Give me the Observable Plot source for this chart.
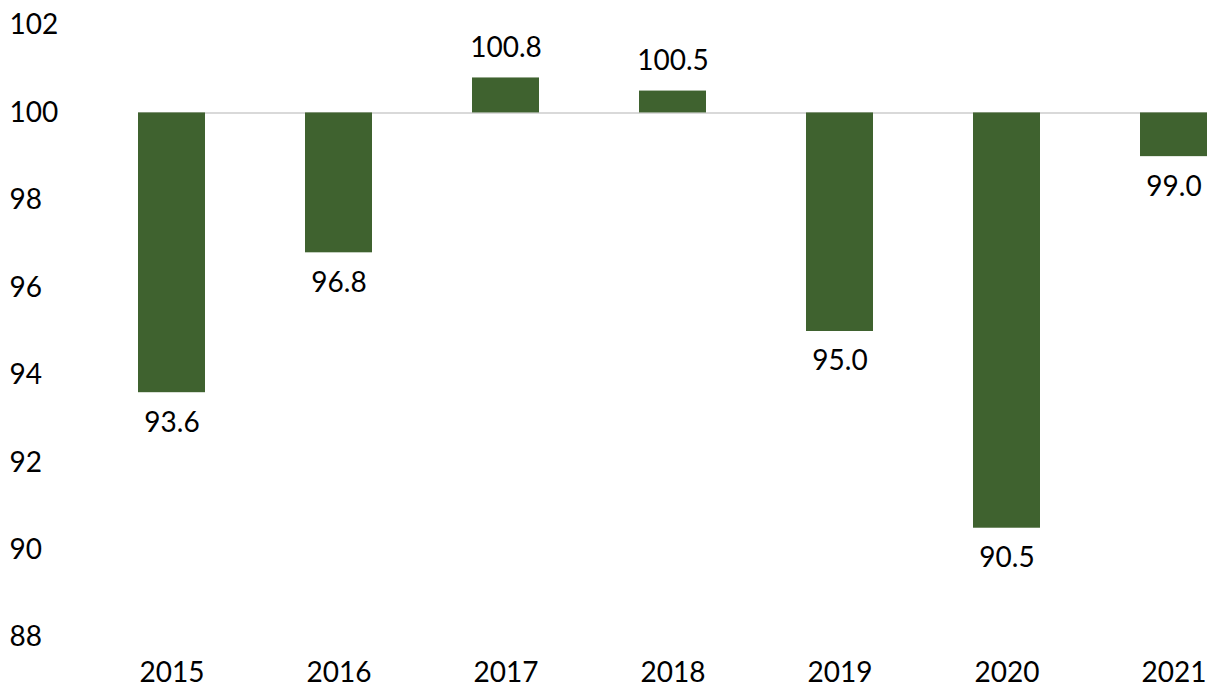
<!DOCTYPE html>
<html>
<head>
<meta charset="utf-8">
<script src="https://cdn.jsdelivr.net/npm/d3@7"></script>
<script src="https://cdn.jsdelivr.net/npm/@observablehq/plot@0.6"></script>
<style>
  html, body { margin: 0; padding: 0; background: #fff; }
  #chart svg { display: block; }
</style>
</head>
<body>
<div id="chart"></div>
<script>
const years = ["2015", "2016", "2017", "2018", "2019", "2020", "2021"];
const values = [93.6, 96.8, 100.8, 100.5, 95.0, 90.5, 99.0];
const yTicks = [88, 90, 92, 94, 96, 98, 100, 102];
const baseline = 100;

const data = years.map((year, i) => ({year, value: values[i]}));
const above = data.filter(d => d.value >= baseline);
const below = data.filter(d => d.value < baseline);

const chart = Plot.plot({
  width: 1210,
  height: 688,
  marginTop: 25,
  marginBottom: 51,
  marginLeft: 138,
  marginRight: 3,
  style: {fontFamily: "Lato, sans-serif", fontSize: "28px", color: "#000", background: "#fff"},
  x: {domain: years, paddingInner: 0.6, paddingOuter: 0, label: null},
  y: {domain: [88, 102], label: null},
  marks: [
    Plot.ruleY([baseline], {stroke: "#d9d9d9", strokeWidth: 2}),
    Plot.barY(data, {x: "year", y1: baseline, y2: "value", fill: "#3f622f"}),
    Plot.text(above, {x: "year", y: "value", text: d => d.value.toFixed(1), dy: -30, fill: "#000", fontSize: 28}),
    Plot.text(below, {x: "year", y: "value", text: d => d.value.toFixed(1), dy: 30, fill: "#000", fontSize: 28}),
    Plot.axisY(yTicks, {tickSize: 0, textAnchor: "start", dx: -120, fontSize: 28, fill: "#000"}),
    Plot.axisX({tickSize: 0, tickPadding: 25, fontSize: 28, fill: "#000"})
  ]
});
document.getElementById("chart").appendChild(chart);
</script>
</body>
</html>
